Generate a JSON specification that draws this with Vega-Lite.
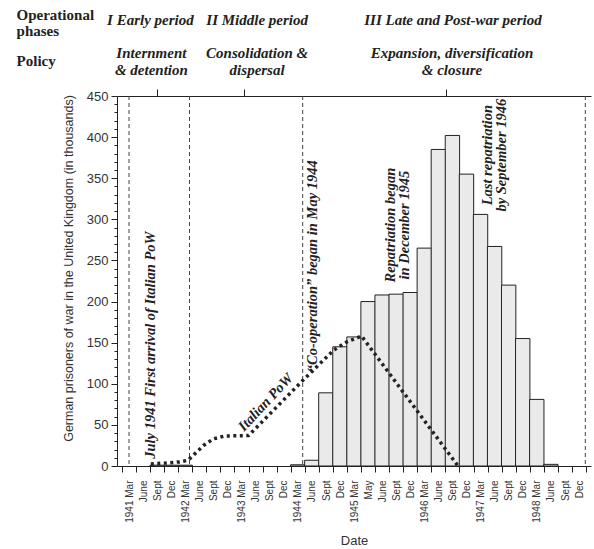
{
  "$schema": "https://vega.github.io/schema/vega-lite/v6.json",
  "width": 474,
  "height": 370,
  "autosize": "none",
  "padding": {"left": 117, "top": 96, "right": 3, "bottom": 83},
  "background": "white",
  "config": {"view": {"stroke": null}},
  "datasets": {
    "pow": [
      {"period": "1941 Sept", "idx": 2, "v": 1},
      {"period": "1941 Dec", "idx": 3, "v": 1},
      {"period": "1942 Mar", "idx": 4, "v": 1},
      {"period": "1944 Mar", "idx": 12, "v": 1.5},
      {"period": "1944 June", "idx": 13, "v": 7},
      {"period": "1944 Sept", "idx": 14, "v": 89},
      {"period": "1944 Dec", "idx": 15, "v": 145},
      {"period": "1945 Mar", "idx": 16, "v": 157},
      {"period": "1945 May", "idx": 17, "v": 200},
      {"period": "1945 June", "idx": 18, "v": 208},
      {"period": "1945 Sept", "idx": 19, "v": 209},
      {"period": "1945 Dec", "idx": 20, "v": 211},
      {"period": "1946 Mar", "idx": 21, "v": 265},
      {"period": "1946 June", "idx": 22, "v": 385},
      {"period": "1946 Sept", "idx": 23, "v": 402},
      {"period": "1946 Dec", "idx": 24, "v": 355},
      {"period": "1947 Mar", "idx": 25, "v": 306},
      {"period": "1947 June", "idx": 26, "v": 267},
      {"period": "1947 Sept", "idx": 27, "v": 220},
      {"period": "1947 Dec", "idx": 28, "v": 155},
      {"period": "1948 Mar", "idx": 29, "v": 81},
      {"period": "1948 June", "idx": 30, "v": 2}
    ],
    "italian": [
      {"t": 1.55, "v": 2.5},
      {"t": 2.5, "v": 3.5},
      {"t": 3.6, "v": 5},
      {"t": 4.2, "v": 7},
      {"t": 5.3, "v": 25},
      {"t": 6.0, "v": 33},
      {"t": 6.8, "v": 36.5},
      {"t": 8.5, "v": 37},
      {"t": 12.24, "v": 102},
      {"t": 14.56, "v": 141},
      {"t": 15.5, "v": 151},
      {"t": 16.54, "v": 158},
      {"t": 23.4, "v": 0}
    ],
    "phases": [{"t": 0}, {"t": 4.3}, {"t": 12.35}, {"t": 32.45}],
    "notes": [
      {"label": "July 1941 First arrival of Italian PoW", "t": 1.58, "v": 147},
      {"label": "\u201cCo-operation\u201d began in May 1944", "t": 13.1, "v": 243},
      {"label": ["Repatriation began", "in December 1945"], "t": 18.63, "v": 293},
      {"label": ["Last repatriation", "by September 1946"], "t": 25.55, "v": 378}
    ],
    "italianLabel": [{"label": "Italian PoW", "t": 9.74, "v": 77}],
    "headUpright": [
      {"label": ["Operational", "phases"], "t": -8.0, "v": 548},
      {"label": "Policy", "t": -8.0, "v": 492}
    ],
    "headItalic": [
      {"label": "I Early period", "t": 1.52, "v": 542},
      {"label": "II Middle period", "t": 9.11, "v": 542},
      {"label": "III Late and Post-war period", "t": 23.04, "v": 542},
      {"label": ["Internment", "& detention"], "t": 1.59, "v": 502},
      {"label": ["Consolidation &", "dispersal"], "t": 9.11, "v": 502},
      {"label": ["Expansion, diversification", "& closure"], "t": 22.97, "v": 502}
    ]
  },
  "layer": [
    {
      "data": {"name": "pow"},
      "mark": {"type": "bar", "orient": "vertical", "width": 14.36, "fill": "#eaeaea", "stroke": "#222", "strokeWidth": 1},
      "encoding": {
        "x": {
          "field": "idx", "type": "quantitative",
          "scale": {"domain": [-0.5, 32.5], "nice": false, "zero": false},
          "axis": {
            "orient": "bottom",
            "values": [-0.5, 0.5, 1.5, 2.5, 3.5, 4.5, 5.5, 6.5, 7.5, 8.5, 9.5, 10.5, 11.5, 12.5, 13.5, 14.5, 15.5, 16.5, 17.5, 18.5, 19.5, 20.5, 21.5, 22.5, 23.5, 24.5, 25.5, 26.5, 27.5, 28.5, 29.5, 30.5, 31.5, 32.5],
            "labelExpr": "['1941 Mar','June','Sept','Dec','1942 Mar','June','Sept','Dec','1943 Mar','June','Sept','Dec','1944 Mar','June','Sept','Dec','1945 Mar','May','June','Sept','Dec','1946 Mar','June','Sept','Dec','1947 Mar','June','Sept','Dec','1948 Mar','June','Sept','Dec',''][datum.value + 0.5]",
            "labelOffset": 7.18,
            "labelAngle": -90,
            "labelFont": "Liberation Sans",
            "labelFontSize": 10,
            "labelColor": "#333",
            "labelOverlap": false,
            "labelBound": false,
            "labelFlush": false,
            "labelPadding": 8,
            "tickSize": 6,
            "tickColor": "#222",
            "domainColor": "#222",
            "grid": false,
            "title": "Date",
            "titleFont": "Liberation Sans",
            "titleFontSize": 13,
            "titleFontWeight": "normal",
            "titleColor": "#333",
            "titleY": 74,
            "titleBaseline": "middle"
          }
        },
        "y": {
          "field": "v", "type": "quantitative",
          "scale": {"domain": [0, 450], "nice": false},
          "axis": {
            "values": [0, 10, 20, 30, 40, 50, 60, 70, 80, 90, 100, 110, 120, 130, 140, 150, 160, 170, 180, 190, 200, 210, 220, 230, 240, 250, 260, 270, 280, 290, 300, 310, 320, 330, 340, 350, 360, 370, 380, 390, 400, 410, 420, 430, 440, 450],
            "labelExpr": "datum.value % 50 === 0 ? datum.label : ''",
            "tickSize": {"condition": {"test": "datum.value % 50 === 0", "value": 6}, "value": 3},
            "tickColor": "#222",
            "domainColor": "#222",
            "labelFont": "Liberation Sans",
            "labelFontSize": 13,
            "labelColor": "#333",
            "labelPadding": 3,
            "labelOverlap": false,
            "grid": false,
            "title": "German prisoners of war in the United Kingdom (in thousands)",
            "titleFont": "Liberation Sans",
            "titleFontSize": 12.5,
            "titleFontWeight": "normal",
            "titleColor": "#333",
            "titleAngle": -90,
            "titleX": -49,
            "titleY": 172,
            "titleAlign": "center",
            "titleBaseline": "middle"
          }
        }
      }
    },
    {
      "data": {"name": "phases"},
      "mark": {"type": "rule", "strokeDash": [4, 3], "strokeWidth": 1, "color": "#444"},
      "encoding": {
        "x": {
          "field": "t", "type": "quantitative",
          "scale": {"domain": [-0.5, 32.5], "nice": false, "zero": false},
          "axis": {"orient": "top", "values": [2.0, 8.2, 22.55], "labels": false, "tickSize": 7, "tickColor": "#222", "domainColor": "#222", "title": null, "grid": false}
        }
      }
    },
    {
      "data": {"name": "italian"},
      "mark": {"type": "line", "strokeDash": [3, 3.5], "strokeWidth": 3.5, "color": "#222"},
      "encoding": {
        "x": {"field": "t", "type": "quantitative", "scale": {"domain": [-0.5, 32.5], "nice": false, "zero": false}, "axis": null},
        "y": {"field": "v", "type": "quantitative", "scale": {"domain": [0, 450], "nice": false}, "axis": null}
      }
    },
    {
      "data": {"name": "notes"},
      "mark": {"type": "text", "angle": 270, "font": "Liberation Serif", "fontStyle": "italic", "fontWeight": "bold", "fontSize": 14.5, "lineHeight": 14, "align": "center", "baseline": "middle", "color": "#222"},
      "encoding": {
        "x": {"field": "t", "type": "quantitative", "scale": {"domain": [-0.5, 32.5], "nice": false, "zero": false}, "axis": null},
        "y": {"field": "v", "type": "quantitative", "scale": {"domain": [0, 450], "nice": false}, "axis": null},
        "text": {"field": "label"}
      }
    },
    {
      "data": {"name": "italianLabel"},
      "mark": {"type": "text", "angle": 313, "font": "Liberation Serif", "fontStyle": "italic", "fontWeight": "bold", "fontSize": 14.5, "align": "center", "baseline": "middle", "color": "#222"},
      "encoding": {
        "x": {"field": "t", "type": "quantitative", "scale": {"domain": [-0.5, 32.5], "nice": false, "zero": false}, "axis": null},
        "y": {"field": "v", "type": "quantitative", "scale": {"domain": [0, 450], "nice": false}, "axis": null},
        "text": {"field": "label"}
      }
    },
    {
      "data": {"name": "headUpright"},
      "mark": {"type": "text", "font": "Liberation Serif", "fontWeight": "bold", "fontSize": 15, "lineHeight": 16, "align": "left", "baseline": "middle", "color": "#222"},
      "encoding": {
        "x": {"field": "t", "type": "quantitative", "scale": {"domain": [-0.5, 32.5], "nice": false, "zero": false}, "axis": null},
        "y": {"field": "v", "type": "quantitative", "scale": {"domain": [0, 450], "nice": false}, "axis": null},
        "text": {"field": "label"}
      }
    },
    {
      "data": {"name": "headItalic"},
      "mark": {"type": "text", "font": "Liberation Serif", "fontStyle": "italic", "fontWeight": "bold", "fontSize": 15, "lineHeight": 17, "align": "center", "baseline": "middle", "color": "#222"},
      "encoding": {
        "x": {"field": "t", "type": "quantitative", "scale": {"domain": [-0.5, 32.5], "nice": false, "zero": false}, "axis": null},
        "y": {"field": "v", "type": "quantitative", "scale": {"domain": [0, 450], "nice": false}, "axis": null},
        "text": {"field": "label"}
      }
    }
  ],
  "resolve": {"axis": {"x": "independent", "y": "independent"}}
}
